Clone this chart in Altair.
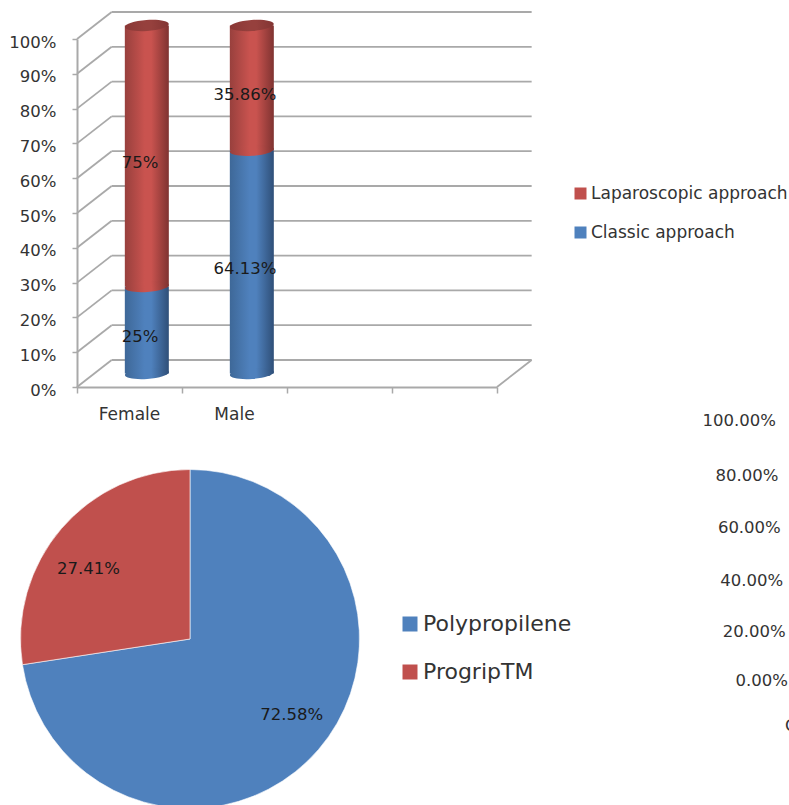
import math

import altair as alt
import pandas as pd

# ---- values ----
GENDERS = ["Female", "Male"]
CLASSIC = [25, 64.13]
LAPAROSCOPIC = [75, 35.86]
APPROACHES = ["Laparoscopic approach", "Classic approach"]
GRID_LEVELS = [0, 10, 20, 30, 40, 50, 60, 70, 80, 90, 100]
SLOT_EDGES = [0, 1, 2, 3, 4]
MESH_NAMES = ["Polypropilene", "ProgripTM"]
MESH_SHARES = [72.58, 27.41]
SIDE_AXIS_VALUES = [100, 80, 60, 40, 20, 0]
SIDE_AXIS_LABELS = ["100.00%", "80.00%", "60.00%", "40.00%", "20.00%", "0.00%"]

# ---- styling and frame ----
W, H = 789, 805
RED, BLUE = "#c0504d", "#4f81bd"
GRID = "#a9a9a9"
INK = "#333333"
FONT = "DejaVu Sans"
DEPTH_X = 0.33  # box depth in slot units
DEPTH_Y = 7.76  # box depth in percentage points
ELLIPSE = "M-1,0A1,0.25,0,1,1,1,0A1,0.25,0,1,1,-1,0Z"
CYL_SIZE = 1936
CYL_WIDTH = 44

x_scale = alt.Scale(domain=[0, 4], range=[77, 497], padding=0, nice=False)
y_scale = alt.Scale(domain=[0, 100], range=[387, 39], nice=False)


def cylinder_fill(edge_l, mid, edge_r):
    return alt.LinearGradient(
        gradient="linear", x1=0, x2=1, y1=0, y2=0,
        stops=[
            alt.GradientStop(color=edge_l, offset=0),
            alt.GradientStop(color=mid, offset=0.45),
            alt.GradientStop(color=mid, offset=0.6),
            alt.GradientStop(color=edge_r, offset=1),
        ],
    )


RED_FILL = cylinder_fill("#98403d", "#c9534f", "#7f3331")
BLUE_FILL = cylinder_fill("#3e6898", "#4f81bd", "#2f4f78")
LID_FILL = cylinder_fill("#8a3836", "#96403d", "#823533")

# Every layer of the column panel shares these two axes.
x_axis = alt.Axis(
    values=SLOT_EDGES, labels=False, title=None, grid=False, offset=-(H - 387),
    domainColor=GRID, domainWidth=2, tickColor=GRID, tickWidth=1.5, tickSize=6,
)
y_axis = alt.Axis(
    values=GRID_LEVELS, title=None, grid=False, offset=-77, format="d",
    labelExpr="datum.value + '%'", labelFont=FONT, labelFontSize=16.5, labelColor=INK,
    labelPadding=16, labelOffset=3, labelOverlap=False, labelFlush=False,
    domainColor=GRID, domainWidth=2, tickColor=GRID, tickWidth=1.5, tickSize=5,
)


def col_x(field):
    return alt.X(field, scale=x_scale, axis=x_axis, title=None)


def col_y(field):
    return alt.Y(field, scale=y_scale, axis=y_axis, title=None)


# ---- box frame of the 3D column chart ----
back_wall = pd.DataFrame({
    "x": [DEPTH_X] * len(GRID_LEVELS),
    "x2": [4 + DEPTH_X] * len(GRID_LEVELS),
    "y": [v + DEPTH_Y for v in GRID_LEVELS],
})
side_wall = pd.DataFrame({
    "x": [0] * len(GRID_LEVELS),
    "x2": [DEPTH_X] * len(GRID_LEVELS),
    "y": GRID_LEVELS,
    "y2": [v + DEPTH_Y for v in GRID_LEVELS],
})
floor_edge = pd.DataFrame({"x": [4], "x2": [4 + DEPTH_X], "y": [0], "y2": [DEPTH_Y]})

back_rules = alt.Chart(back_wall).mark_rule(color=GRID, strokeWidth=1.8).encode(
    x=col_x("x:Q"), x2="x2:Q", y=col_y("y:Q")
)
side_rules = alt.Chart(side_wall).mark_rule(color=GRID, strokeWidth=1.8).encode(
    x=col_x("x:Q"), x2="x2:Q", y=col_y("y:Q"), y2="y2:Q"
)
floor_rule = alt.Chart(floor_edge).mark_rule(color=GRID, strokeWidth=1.8).encode(
    x=col_x("x:Q"), x2="x2:Q", y=col_y("y:Q"), y2="y2:Q"
)

# ---- stacked cylinders ----
rows = []
for i, gender in enumerate(GENDERS):
    rows.append({
        "gender": gender, "approach": APPROACHES[1], "label": f"{CLASSIC[i]:g}%",
        "slot": i + 0.5 + DEPTH_X / 2, "text_x": i + 0.6,
        "base": 0, "top": CLASSIC[i],
    })
    rows.append({
        "gender": gender, "approach": APPROACHES[0], "label": f"{LAPAROSCOPIC[i]:g}%",
        "slot": i + 0.5 + DEPTH_X / 2, "text_x": i + 0.6,
        "base": CLASSIC[i], "top": CLASSIC[i] + LAPAROSCOPIC[i],
    })
columns = pd.DataFrame(rows)
columns["y0"] = columns["base"] + DEPTH_Y / 2
columns["y1"] = columns["top"] + DEPTH_Y / 2
columns["text_y"] = (columns["base"] + columns["top"]) / 2 + 1.87
classic_rows = columns[columns["approach"] == APPROACHES[1]]
lap_rows = columns[columns["approach"] == APPROACHES[0]]

flat_bars = alt.Chart(columns).mark_bar(size=CYL_WIDTH - 2).encode(
    x=col_x("slot:Q"), y=col_y("y0:Q"), y2="y1:Q",
    color=alt.Color("approach:N", scale=alt.Scale(domain=APPROACHES, range=[RED, BLUE]),
        legend=alt.Legend(
            orient="none", legendX=572, legendY=185, title=None, symbolType="square",
            symbolSize=144, symbolStrokeWidth=0, rowPadding=21, labelFont=FONT,
            labelFontSize=17, labelColor=INK, labelOffset=2, labelLimit=300,
        )),
)


def shell(frame, fill):
    return alt.Chart(frame).mark_bar(size=CYL_WIDTH, color=fill).encode(
        x=col_x("slot:Q"), y=col_y("y0:Q"), y2="y1:Q"
    )


def cap(frame, fill, field):
    return alt.Chart(frame).mark_point(
        shape=ELLIPSE, size=CYL_SIZE, filled=True, color=fill, opacity=1, angle=356
    ).encode(x=col_x("slot:Q"), y=col_y(field))


cylinders = [
    shell(classic_rows, BLUE_FILL),
    cap(classic_rows, BLUE_FILL, "y0:Q"),
    shell(lap_rows, RED_FILL),
    cap(lap_rows, RED_FILL, "y0:Q"),
    cap(lap_rows, LID_FILL, "y1:Q"),
]

value_text = alt.Chart(columns).mark_text(font=FONT, fontSize=16.5, color="#1a1a1a").encode(
    x=col_x("text_x:Q"), y=col_y("text_y:Q"), text="label:N"
)

gender_text = alt.Chart(pd.DataFrame({
    "slot": [i + 0.5 for i in range(len(GENDERS))], "gender": GENDERS,
})).mark_text(font=FONT, fontSize=17, color=INK).encode(
    x=col_x("slot:Q"), y=alt.value(415), text="gender:N"
)

column_panel = alt.layer(
    back_rules, side_rules, floor_rule, flat_bars, *cylinders, value_text, gender_text
)

# ---- pie ----
theta_scale = alt.Scale(domain=[0, 100], range=[0, 2 * math.pi])
pie = pd.DataFrame({
    "mesh": MESH_NAMES,
    "share": MESH_SHARES,
    "start": [0, MESH_SHARES[0]],
    "end": [MESH_SHARES[0], 100],
})
pie["text_at"] = (pie["start"] + pie["end"]) / 2 - 1.4
pie["label"] = pie["share"].map(lambda v: f"{v:.2f}%")

slices = alt.Chart(pie).mark_arc(radius=169.5, stroke="#ffffff", strokeWidth=0.6).encode(
    theta=alt.Theta("start:Q", scale=theta_scale),
    theta2="end:Q",
    x=alt.value(190), y=alt.value(639),
    color=alt.Color("mesh:N", scale=alt.Scale(domain=MESH_NAMES, range=[BLUE, RED]),
        legend=alt.Legend(
            orient="none", legendX=399, legendY=613, title=None, symbolType="square",
            symbolSize=225, symbolStrokeWidth=0, rowPadding=26, labelFont=FONT,
            labelFontSize=22, labelColor=INK, labelOffset=2, labelLimit=300,
        )),
)
slice_text = alt.Chart(pie).mark_text(
    radius=125, dy=3, font=FONT, fontSize=16.5, color="#1a1a1a"
).encode(
    theta=alt.Theta("text_at:Q", scale=theta_scale),
    x=alt.value(190), y=alt.value(639),
    text="label:N",
)
pie_panel = alt.layer(slices, slice_text)

# ---- neighbouring axis running off the right edge ----
side_axis = alt.Chart(pd.DataFrame({
    "value": SIDE_AXIS_VALUES, "label": SIDE_AXIS_LABELS,
})).mark_text(font=FONT, fontSize=16.5, align="right", color=INK).encode(
    x=alt.X("value:Q", scale=alt.Scale(domain=[0, 100], range=[788, 776]), axis=None),
    y=alt.Y("value:Q", scale=alt.Scale(
        domain=[0, 20, 40, 60, 80, 100], range=[681, 632, 581, 528, 476, 421]), axis=None),
    text="label:N",
)
side_axis_stub = alt.Chart(pd.DataFrame({"label": ["C"]})).mark_text(
    font=FONT, fontSize=16.5, align="left", color=INK
).encode(x=alt.value(785), y=alt.value(726), text="label:N")

chart = (
    alt.layer(column_panel, pie_panel, alt.layer(side_axis, side_axis_stub))
    .resolve_scale(x="independent", y="independent", color="independent", theta="independent")
    .properties(
        width=W, height=H, padding=0, background="#ffffff",
        autosize=alt.AutoSizeParams(type="none"),
    )
    .configure_view(stroke=None)
)

chart.save("out.html", embed_options={"renderer": "svg", "actions": False})
